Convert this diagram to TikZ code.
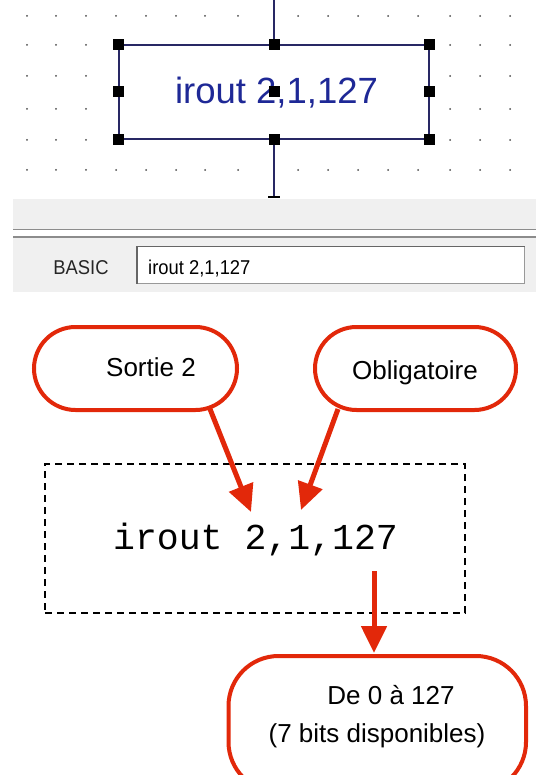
\documentclass[tikz,border=0pt]{standalone}
\usepackage{fontspec}
\setmainfont{Liberation Sans}
\newfontfamily\codefont{Liberation Mono}
\usetikzlibrary{arrows.meta}
\definecolor{redc}{RGB}{226,40,10}
\definecolor{navy}{RGB}{40,40,100}
\definecolor{bluetxt}{RGB}{30,40,150}
\definecolor{panel}{RGB}{240,240,240}
\begin{document}
\begin{tikzpicture}[x=1pt,y=-1pt,
  pill/.style={draw=redc, line width=4pt, rounded corners=41.5pt, inner sep=0pt},
  handle/.style={fill=black, minimum size=11pt, inner sep=0pt},
  redarrow/.style={draw=redc, line width=5pt, -{Triangle[length=27pt,width=25pt]}},
  lbl/.style={font=\fontsize{26}{30}\selectfont, text=black, inner sep=0pt, anchor=base}
]
\useasboundingbox (0,0) rectangle (536,775);
\clip (0,0) rectangle (536,775);
\fill[white] (0,0) rectangle (536,775);
% dot grid
\foreach \x in {27,56,86,116,146,176,205,238,298,328,358,388,418,450,480,510}
  \foreach \y in {16,45,76,109,140,170}{
    \pgfmathparse{(\x>110 && \x<435 && \y>40 && \y<145) ? 1 : 0}
    \ifnum\pgfmathresult=0 \fill[black!70] (\x,\y) circle (1pt); \fi
  }
% flowchart block
\node[draw=navy, line width=1.8pt, minimum width=310pt, minimum height=94pt, inner sep=0pt] (blk) at (274,92) {};
\coordinate (topin) at (274,0);
\coordinate (botout) at (274,197);
\draw[navy, line width=1.8pt] (topin) -- (blk.north);
\draw[navy, line width=1.8pt] (blk.south) -- (botout);
\draw[black, line width=2.5pt] ([xshift=-6pt]botout) -- ([xshift=6pt]botout);
\node[font=\fontsize{36.5}{40}\selectfont, text=bluetxt, inner sep=0pt, anchor=base] (bt) at (276.5,104) {irout 2,1,127};
\foreach \a in {north west,north,north east,west,center,east,south west,south,south east}
  \node[handle] at (blk.\a) {};
% panel
\fill[panel] (13,199) rectangle (536,292);
\draw[black!45, line width=1.2pt] (13,229.5) -- (536,229.5);
\draw[black!45, line width=1.2pt] (13,237) -- (536,237);
\fill[white] (13,230.5) rectangle (536,236);
\node[font=\fontsize{20}{24}\selectfont, text=black!85, inner sep=0pt, anchor=base, xscale=0.92] (basic) at (81,274) {BASIC};
\node[draw=black!40, fill=white, line width=1pt, minimum width=387pt, minimum height=36pt, inner sep=0pt] (field) at (331,265) {};
\draw[black!60, line width=1.2pt] (field.south west) -- (field.north west) -- (field.north east);
\node[font=\fontsize{20}{24}\selectfont, text=black, inner sep=0pt, anchor=base west, xscale=0.92] (ftxt) at (148,274) {irout 2,1,127};
% annotation diagram
\node[pill, minimum width=203pt, minimum height=83pt] (sortie) at (135.5,368.5) {};
\node[lbl] (sortieT) at (151,376) {Sortie 2};
\node[pill, minimum width=201pt, minimum height=83pt] (oblig) at (415.5,368.5) {};
\node[lbl] (obligT) at (415,379) {Obligatoire};
\node[draw=black, line width=2.5pt, dash pattern=on 7pt off 5pt, minimum width=420pt, minimum height=149pt, inner sep=0pt] (code) at (255,538.5) {};
\node[font=\fontsize{36.5}{40}\selectfont\codefont, inner sep=0pt, anchor=base] (codeT) at (255.5,549) {irout 2,1,127};
\node[draw=redc, line width=4pt, rounded corners=50pt, minimum width=297.5pt, minimum height=136pt, inner sep=0pt] (range) at (377.25,724) {};
\node[lbl] (rangeT1) at (391,704) {De 0 à 127};
\node[lbl] (rangeT2) at (377,742) {(7 bits disponibles)};
% arrows
\coordinate (s1) at (210,409);
\coordinate (e1) at (251,512);
\coordinate (s2) at (338,409);
\coordinate (e2) at (301,510);
\coordinate (s3) at (374,571);
\coordinate (e3) at (374,653);
\draw[redarrow] (s1) -- (e1);
\draw[redarrow] (s2) -- (e2);
\draw[redarrow] (s3) -- (e3);
\end{tikzpicture}
\end{document}
